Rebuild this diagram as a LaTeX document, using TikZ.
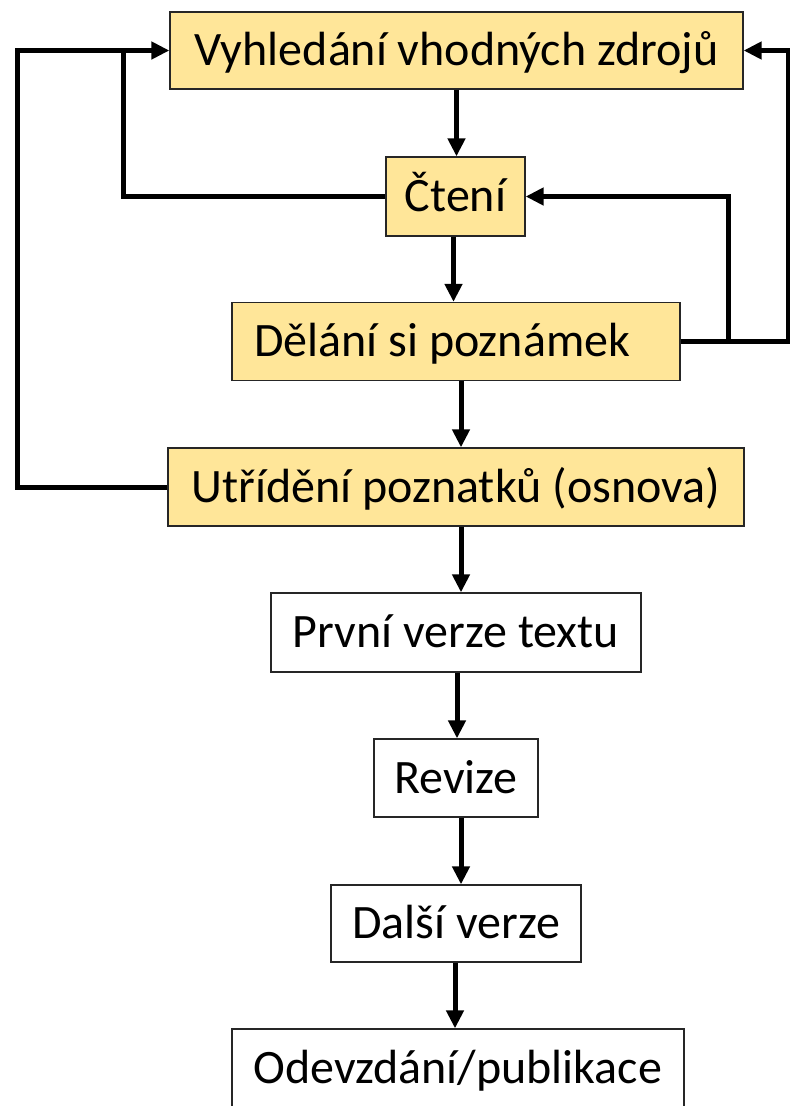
\documentclass[tikz,border=0pt]{standalone}
\usepackage{fontspec}
\setmainfont{Carlito}
\usetikzlibrary{arrows.meta}
\definecolor{boxyellow}{HTML}{FFE699}
\begin{document}
\begin{tikzpicture}[x=1pt,y=-1pt,
  box/.style={draw=black!85, line width=1.3pt, inner sep=0pt, text height=30pt, text depth=0pt, font=\fontsize{48}{56}\selectfont},
  ybox/.style={box, fill=boxyellow},
  wbox/.style={box, fill=white},
  conn/.style={line width=5pt, -{Triangle[length=18pt,width=17pt]}},
  plain/.style={line width=5pt}]
\useasboundingbox (0,0) rectangle (790,1106);
\node[ybox, minimum width=573pt, minimum height=77pt] (b1) at (456.5,50.5) {Vyhledání vhodných zdrojů};
\node[ybox, minimum width=139pt, minimum height=79pt] (b2) at (455.5,196.5) {Čtení};
\node[ybox, text width=404pt, inner xsep=22pt, align=flush left, minimum height=78pt] (b3) at (456,341.5) {Dělání si poznámek};
\node[ybox, minimum width=576pt, minimum height=78pt] (b4) at (456,487) {Utřídění poznatků (osnova)};
\node[wbox, minimum width=370pt, minimum height=79pt] (b5) at (456,632.5) {První verze textu};
\node[wbox, minimum width=164pt, minimum height=78pt] (b6) at (456,778) {Revize};
\node[wbox, minimum width=250pt, minimum height=77pt] (b7) at (456,923.5) {Další verze};
\node[wbox, minimum width=452pt, minimum height=78pt] (b8) at (458,1068) {Odevzdání/publikace};
\coordinate (L1) at (17.5,0);
\coordinate (L2) at (123,0);
\coordinate (R1) at (788,0);
\coordinate (R2) at (728,0);
\draw[conn] (b1.south) -- (b1.south |- b2.north);
\draw[conn] ([xshift=-2pt]b2.south) -- ([xshift=-2pt]b2.south |- b3.north);
\draw[conn] ([xshift=5pt]b3.south) -- ([xshift=5pt]b3.south |- b4.north);
\draw[conn] ([xshift=5pt]b4.south) -- ([xshift=5pt]b4.south |- b5.north);
\draw[conn] ([xshift=1pt]b5.south) -- ([xshift=1pt]b5.south |- b6.north);
\draw[conn] ([xshift=5pt]b6.south) -- ([xshift=5pt]b6.south |- b7.north);
\draw[conn] ([xshift=-1pt]b7.south) -- ([xshift=-1pt]b7.south |- b8.north);
\draw[conn] (b4.west) -- (b4.west -| L1) |- (b1.west);
\draw[plain] (b2.west) -| (L2 |- b1.west);
\draw[conn] (b3.east) -- (b3.east -| R1) |- (b1.east);
\draw[conn] (b3.east) -- (b3.east -| R2) |- (b2.east);
\end{tikzpicture}
\end{document}
